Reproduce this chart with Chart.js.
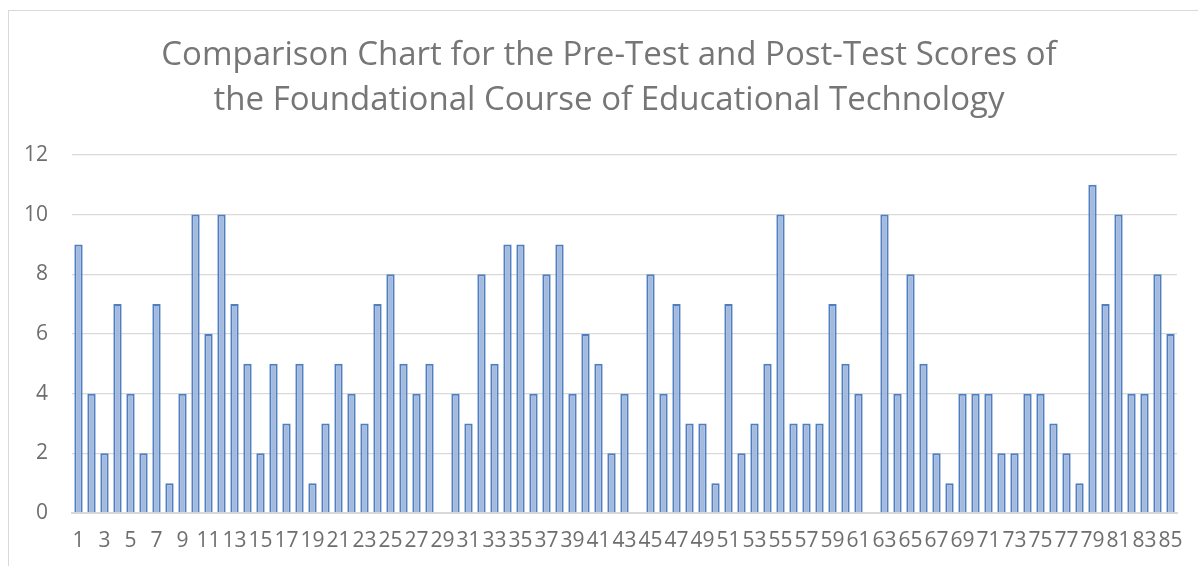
<!DOCTYPE html>
<html>
<head>
<meta charset="utf-8">
<script src="https://cdn.jsdelivr.net/npm/chart.js@4/dist/chart.umd.min.js"></script>
<style>
  html, body { margin: 0; padding: 0; background: #ffffff; overflow: hidden; }
  #frame { position: absolute; left: 8px; top: 10px; width: 1300px; height: 700px; border: 1px solid #d9d9d9; box-sizing: border-box; }
  #wrap { position: absolute; left: 0; top: 0; width: 1218px; height: 566px; }
</style>
</head>
<body>
<div id="frame"></div>
<div id="wrap"><canvas id="c" width="1218" height="566"></canvas></div>
<script>
const titleLines = [
  "Comparison Chart for the Pre-Test and Post-Test Scores of",
  "the Foundational Course of Educational Technology"
];
const categories = [
  "1","2","3","4","5","6","7","8","9","10",
  "11","12","13","14","15","16","17","18","19","20",
  "21","22","23","24","25","26","27","28","29","30",
  "31","32","33","34","35","36","37","38","39","40",
  "41","42","43","44","45","46","47","48","49","50",
  "51","52","53","54","55","56","57","58","59","60",
  "61","62","63","64","65","66","67","68","69","70",
  "71","72","73","74","75","76","77","78","79","80",
  "81","82","83","84","85"
];
const scores = [
  9,4,2,7,4,2,7,1,4,10,
  6,10,7,5,2,5,3,5,1,3,
  5,4,3,7,8,5,4,5,null,4,
  3,8,5,9,9,4,8,9,4,6,
  5,2,4,null,8,4,7,3,3,1,
  7,2,3,5,10,3,3,3,7,5,
  4,null,10,4,8,5,2,1,4,4,
  4,2,2,4,4,3,2,1,11,7,
  10,4,4,8,6
];
const yTicks = [0, 2, 4, 6, 8, 10, 12];

const FONT = "'Open Sans', 'Liberation Sans', sans-serif";
const ctx = document.getElementById('c').getContext('2d');
new Chart(ctx, {
  type: 'bar',
  data: {
    labels: categories,
    datasets: [{
      label: 'Scores',
      data: scores,
      backgroundColor: '#a3b9de',
      borderColor: '#4f7fc0',
      borderWidth: 2,
      barPercentage: 0.64,
      categoryPercentage: 1.0,
      yAxisID: 'y'
    }]
  },
  options: {
    responsive: false,
    animation: false,
    devicePixelRatio: 1,
    layout: { padding: { left: 0, right: 0, top: 33, bottom: 13 } },
    plugins: {
      legend: { display: false },
      tooltip: { enabled: false },
      title: {
        display: true,
        text: titleLines,
        color: '#767676',
        font: { family: FONT, size: 33, weight: 'normal', lineHeight: 1.37 },
        padding: { top: 0, bottom: 31.5 }
      }
    },
    scales: {
      x: {
        grid: { display: false, drawTicks: false },
        border: { display: true, color: '#d9d9d9', width: 2 },
        afterFit: (s) => { s.height = 40; },
        ticks: {
          autoSkip: false,
          maxRotation: 0,
          minRotation: 0,
          padding: 15,
          color: '#6e6e6e',
          font: { family: FONT, size: 21 },
          callback: function(value, index) {
            return index % 2 === 0 ? categories[index] : '';
          }
        }
      },
      y: {
        position: 'left',
        min: 0,
        max: 12,
        afterBuildTicks: (s) => { s.ticks = yTicks.map(v => ({ value: v })); },
        afterFit: (s) => { s.width = 72; },
        grid: { color: '#d9d9d9', lineWidth: 1.3, drawTicks: false },
        border: { display: false },
        ticks: {
          padding: 24,
          color: '#6e6e6e',
          font: { family: FONT, size: 21 }
        }
      },
      yRight: {
        position: 'right',
        display: true,
        min: 0,
        max: 12,
        afterFit: (s) => { s.width = 41; },
        grid: { display: false, drawTicks: false },
        border: { display: false },
        ticks: { display: false }
      }
    }
  }
});
</script>
</body>
</html>
